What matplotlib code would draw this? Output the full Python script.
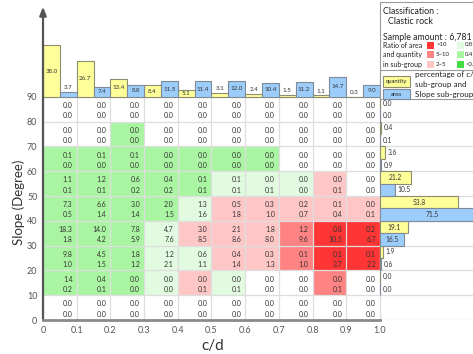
import numpy as np
import matplotlib.pyplot as plt
from matplotlib.patches import Rectangle

plt.rcParams['font.family'] = ['Lato', 'DejaVu Sans']

# c/d sub-groups (columns) and slope sub-groups (rows, listed 80-90 down to 0-10)
cd_ticks = [0, 0.1, 0.2, 0.3, 0.4, 0.5, 0.6, 0.7, 0.8, 0.9, 1.0]
slope_ticks = [0, 10, 20, 30, 40, 50, 60, 70, 80, 90]

# percentage of quantity in each cell
quantity = [
    [0.0, 0.0, 0.0, 0.0, 0.0, 0.0, 0.0, 0.0, 0.0, 0.0],
    [0.0, 0.0, 0.0, 0.0, 0.0, 0.0, 0.0, 0.0, 0.0, 0.0],
    [0.1, 0.1, 0.1, 0.0, 0.0, 0.0, 0.0, 0.0, 0.0, 0.0],
    [1.1, 1.2, 0.6, 0.4, 0.1, 0.1, 0.0, 0.0, 0.0, 0.0],
    [7.3, 6.6, 3.0, 2.0, 1.3, 0.5, 0.3, 0.2, 0.1, 0.0],
    [18.3, 14.0, 7.8, 4.7, 3.0, 2.1, 1.8, 1.2, 0.8, 0.2],
    [9.8, 4.5, 1.8, 1.2, 0.6, 0.4, 0.3, 0.1, 0.1, 0.1],
    [1.4, 0.4, 0.0, 0.0, 0.0, 0.0, 0.0, 0.0, 0.0, 0.0],
    [0.0, 0.0, 0.0, 0.0, 0.0, 0.0, 0.0, 0.0, 0.0, 0.0],
]
# percentage of area in each cell
area = [
    [0.0, 0.0, 0.0, 0.0, 0.0, 0.0, 0.0, 0.0, 0.0, 0.0],
    [0.0, 0.0, 0.0, 0.0, 0.0, 0.0, 0.0, 0.0, 0.0, 0.0],
    [0.0, 0.0, 0.0, 0.0, 0.0, 0.0, 0.0, 0.0, 0.0, 0.0],
    [0.1, 0.1, 0.2, 0.2, 0.1, 0.1, 0.1, 0.0, 0.1, 0.0],
    [0.5, 1.4, 1.4, 1.5, 1.6, 1.8, 1.0, 0.7, 0.4, 0.1],
    [1.8, 4.2, 5.9, 7.6, 8.5, 8.6, 8.0, 9.6, 10.5, 6.7],
    [1.0, 1.5, 1.2, 2.1, 1.1, 1.4, 1.3, 1.0, 3.7, 2.2],
    [0.2, 0.1, 0.0, 0.0, 0.1, 0.1, 0.0, 0.0, 0.1, 0.0],
    [0.0, 0.0, 0.0, 0.0, 0.0, 0.0, 0.0, 0.0, 0.0, 0.0],
]
# ratio class of area/quantity: R >10, M 5~10, P 2~5, W, L 0.8~, G green
ratio_class = [
    "WWWWWWWWWW",
    "WWGWWWWWWW",
    "GGGGGGGWWW",
    "GGGGGLLLPW",
    "GGGGLPPPPP",
    "GGGLPPPMRR",
    "GGGLLPPMRR",
    "GGGLPLWWMW",
    "WWWWWWWWWW",
]

cd_quantity = [38.0, 26.7, 13.4, 8.4, 5.1, 3.1, 2.4, 1.5, 1.1, 0.3]
cd_area = [3.7, 7.4, 8.8, 11.5, 11.4, 12.0, 10.4, 11.2, 14.7, 9.0]
slope_quantity = [0.0, 0.0, 0.4, 3.6, 21.2, 53.8, 19.1, 1.9, 0.0]
slope_area = [0.0, 0.0, 0.1, 0.9, 10.5, 71.5, 16.5, 0.6, 0.0]

colors = {'R': '#ff3434', 'M': '#ff8383', 'P': '#ffc6c6',
          'W': '#ffffff', 'L': '#e2fadf', 'G': '#aaf5a2'}
yellow = '#ffff99'
blue = '#9ccdfa'
txt = '#333333'

fig = plt.figure(figsize=(4.73, 3.54), dpi=100)
ax = fig.add_axes([43 / 473, 34 / 354, 430 / 473, 320 / 354])
ax.set_xlim(0, 1.276)
ax.set_ylim(0, 129.1)
for s in ax.spines.values():
    s.set_visible(False)

nrows = len(quantity)
top_scale = 0.55      # degrees per percent for c/d bars
right_scale = 0.0043  # c/d units per percent for slope bars

# cells
for i in range(nrows):
    y0 = slope_ticks[nrows - 1 - i]
    for j in range(10):
        x0 = cd_ticks[j]
        ax.add_patch(Rectangle((x0, y0), 0.1, 10, facecolor=colors[ratio_class[i][j]],
                               edgecolor='none', zorder=1))
        ax.text(x0 + 0.088, y0 + 6.5, f"{quantity[i][j]:.1f}", ha='right', va='center',
                fontsize=5, color=txt, zorder=4)
        ax.text(x0 + 0.088, y0 + 2.4, f"{area[i][j]:.1f}", ha='right', va='center',
                fontsize=5, color=txt, zorder=4)

# grid lines
for y in slope_ticks:
    ax.plot([0, 1.276], [y, y], color='#dedede', lw=0.9, zorder=2)
for x in cd_ticks:
    ax.plot([x, x], [0, 90], color='#dedede', lw=0.9, zorder=2)

# c/d sub-group bars on top
xl = np.array(cd_ticks[:-1])
ax.bar(xl + 0.025, np.array(cd_quantity) * top_scale, width=0.05, bottom=90,
       color=yellow, edgecolor='#8c8c70', lw=0.8, zorder=3)
ax.bar(xl + 0.075, np.array(cd_area) * top_scale, width=0.05, bottom=90,
       color=blue, edgecolor='#7f8a96', lw=0.8, zorder=3)
for j in range(10):
    for v, xc in ((cd_quantity[j], xl[j] + 0.025), (cd_area[j], xl[j] + 0.075)):
        h = v * top_scale
        if v >= 5:
            ax.text(xc, 90 + h / 2, f"{v:.1f}", ha='center', va='center', fontsize=4.5, color=txt, zorder=5)
        else:
            ax.text(xc, 90 + h + 1.6, f"{v:.1f}", ha='center', va='center', fontsize=4.5, color=txt, zorder=5)

# slope sub-group bars on the right
yb = np.array(slope_ticks[::-1][:nrows])
ax.barh(yb + 7.5, np.array(slope_quantity) * right_scale, height=5, left=1.0,
        color=yellow, edgecolor='#8c8c70', lw=0.8, zorder=3)
ax.barh(yb + 2.5, np.array(slope_area) * right_scale, height=5, left=1.0,
        color=blue, edgecolor='#7f8a96', lw=0.8, zorder=3)
for i in range(nrows):
    for v, yc in ((slope_quantity[i], yb[i] + 7.5), (slope_area[i], yb[i] + 2.5)):
        w = v * right_scale
        if v >= 15:
            ax.text(1.0 + w / 2, yc, f"{v:.1f}", ha='center', va='center', fontsize=4.8, color=txt, zorder=5)
        else:
            ax.text(1.0 + w + 0.008, yc, f"{v:.1f}", ha='left', va='center', fontsize=4.8, color=txt, zorder=5)

# axes lines
ax.plot([0, 1.0], [0, 0], color='#8a8a8a', lw=2, zorder=6, clip_on=False)
ax.annotate('', xy=(0, 127.5), xytext=(0, -0.5),
            arrowprops=dict(arrowstyle='-|>,head_length=0.5,head_width=0.2', color='#555555', lw=1.6),
            zorder=6, annotation_clip=False)

ax.set_xticks(cd_ticks)
ax.set_xticklabels([f"{t:g}" if t == 0 else f"{t:.1f}" for t in cd_ticks])
ax.set_yticks(slope_ticks)
ax.tick_params(length=0, labelsize=6.5, labelcolor='#555555', pad=4)
ax.set_xlabel('c/d', fontsize=11, color='#333333')
ax.set_ylabel('Slope (Degree)', fontsize=9.5, color='#333333')
ax.yaxis.set_label_coords(-0.042, (320 - 202) / 320)
ax.xaxis.set_label_coords((213 - 43) / 430, -0.06)

# legend box (figure pixel coordinates)
def fx(px):
    return px / 473


def fy(py):
    return 1 - py / 354


fig.patches.append(Rectangle((fx(380), fy(99)), fx(100), 97 / 354, transform=fig.transFigure,
                             facecolor='white', edgecolor='#9a9a9a', lw=0.8, zorder=10))
fig.text(fx(383), fy(11), 'Classification :', fontsize=6.4, color='#222222', va='center', zorder=11)
fig.text(fx(388), fy(22), 'Clastic rock', fontsize=6.4, color='#222222', va='center', zorder=11)
fig.text(fx(383), fy(37), 'Sample amount : 6,781', fontsize=6.3, color='#222222', va='center', zorder=11)
legend_rows = [('Ratio of area', 'R', '>10', 'L', '0.8~1'),
               ('and quantity', 'M', '5~10', 'G', '0.4~0.'),
               ('in sub-group', 'P', '2~5', 'G2', '<0.4')]
legend_colors = dict(colors, G2='#44dd44')
for k, (lab, c1, t1, c2, t2) in enumerate(legend_rows):
    yy = 45 + k * 9.5
    fig.text(fx(383), fy(yy), lab, fontsize=5, color='#222222', va='center', zorder=11)
    fig.patches.append(Rectangle((fx(427), fy(yy + 3.5)), fx(6.5), 7 / 354, transform=fig.transFigure,
                                 facecolor=legend_colors[c1], edgecolor='none', zorder=11))
    fig.text(fx(436), fy(yy), t1, fontsize=4.3, color='#222222', va='center', zorder=11)
    fig.patches.append(Rectangle((fx(457), fy(yy + 3.5)), fx(6.5), 7 / 354, transform=fig.transFigure,
                                 facecolor=legend_colors[c2], edgecolor='none', zorder=11))
    fig.text(fx(465), fy(yy), t2, fontsize=4.3, color='#222222', va='center', zorder=11)
fig.lines.append(plt.Line2D([fx(380), fx(473)], [fy(70), fy(70)], transform=fig.transFigure,
                            color='#9a9a9a', lw=0.8, zorder=11))
fig.patches.append(Rectangle((fx(383), fy(87)), fx(27), 11 / 354, transform=fig.transFigure,
                             facecolor=yellow, edgecolor='#8c8c70', lw=0.8, zorder=11))
fig.text(fx(396.5), fy(81.5), 'quantity', fontsize=4.2, color='#222222', ha='center', va='center', zorder=12)
fig.patches.append(Rectangle((fx(383), fy(99)), fx(27), 10 / 354, transform=fig.transFigure,
                             facecolor=blue, edgecolor='#7f8a96', lw=0.8, zorder=11))
fig.text(fx(396.5), fy(94), 'area', fontsize=4.2, color='#222222', ha='center', va='center', zorder=12)
for k, line in enumerate(['percentage of c/d', 'sub-group and', 'Slope sub-group']):
    fig.text(fx(415), fy(74 + k * 10.5), line, fontsize=5.8, color='#222222', va='center', zorder=12)

fig.savefig('out.png', dpi=100)
